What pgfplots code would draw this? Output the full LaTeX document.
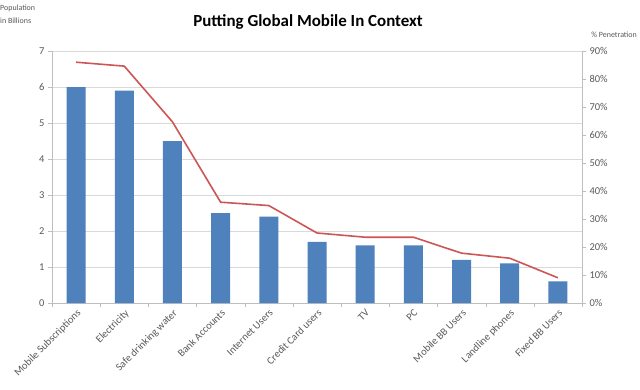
\documentclass[border=0pt]{standalone}
\usepackage{pgfplots}
\pgfplotsset{compat=1.18}
\usepackage{fontspec}
\setmainfont{Carlito}
\definecolor{barblue}{RGB}{79,129,189}
\definecolor{linered}{RGB}{205,85,85}
\definecolor{txtgray}{RGB}{89,89,89}
\definecolor{gridgray}{RGB}{217,217,217}
\definecolor{axgray}{RGB}{190,190,190}
\begin{document}
\begin{tikzpicture}[x=1bp,y=1bp]
\useasboundingbox[fill=white] (0,0) rectangle (640,389);
\begin{axis}[
  at={(52bp,86bp)}, anchor=south west, scale only axis,
  width=530bp, height=252bp,
  xmin=-0.5, xmax=10.5, ymin=0, ymax=7,
  axis x line*=bottom, axis y line*=left,
  axis line style={axgray, line width=0.6pt},
  ytick={0,...,7},
  ymajorgrids, grid style={gridgray, line width=0.6pt},
  xtick={0,...,10},
  major x tick style={draw=none},
  minor xtick={-0.5,0.5,...,10.5},
  minor x tick style={axgray},
  minor tick length=4bp,
  major tick length=4bp,
  tick align=outside,
  y tick style={axgray},
  xticklabels={Mobile Subscriptions,Electricity,Safe drinking water,Bank Accounts,Internet Users,Credit Card users,TV,PC,Mobile BB Users,Landline phones,Fixed BB Users},
  x tick label style={rotate=45, anchor=north east, font=\fontsize{10.5}{12}\selectfont, text=txtgray, inner sep=1pt},
  y tick label style={font=\fontsize{10.5}{12}\selectfont, text=txtgray},
  /pgf/number format/assume math mode=true,
]
\addplot[ybar, bar width=19bp, fill=barblue, draw=none] coordinates {
(0,6.0) (1,5.9) (2,4.5) (3,2.5) (4,2.4) (5,1.7) (6,1.6) (7,1.6) (8,1.2) (9,1.1) (10,0.6)};
\end{axis}
\begin{axis}[
  at={(52bp,86bp)}, anchor=south west, scale only axis,
  width=530bp, height=252bp,
  xmin=-0.5, xmax=10.5, ymin=0, ymax=90,
  axis x line=none, axis y line*=right,
  axis line style={axgray, line width=0.6pt},
  ytick={0,10,...,90},
  yticklabel={\pgfmathprintnumber{\tick}\%},
  tick align=outside, major tick length=4bp,
  y tick style={axgray},
  y tick label style={font=\fontsize{10.5}{12}\selectfont, text=txtgray},
  /pgf/number format/assume math mode=true,
]
\addplot[linered, line width=1.6pt, mark=none] coordinates {
(0,86) (1,84.6) (2,64.7) (3,36) (4,34.8) (5,25) (6,23.5) (7,23.5) (8,17.8) (9,16) (10,9)};
\end{axis}
\node[anchor=north west, align=left, text=txtgray, font=\fontsize{8}{13}\selectfont, inner sep=0pt] at (0,384) {Population\\in Billions};
\node[anchor=east, text=txtgray, font=\fontsize{8}{9}\selectfont, inner sep=0pt] at (637,354) {\% Penetration};
\node[font=\bfseries\fontsize{17}{20}\selectfont] at (308,367) {Putting Global Mobile In Context};
\end{tikzpicture}
\end{document}
